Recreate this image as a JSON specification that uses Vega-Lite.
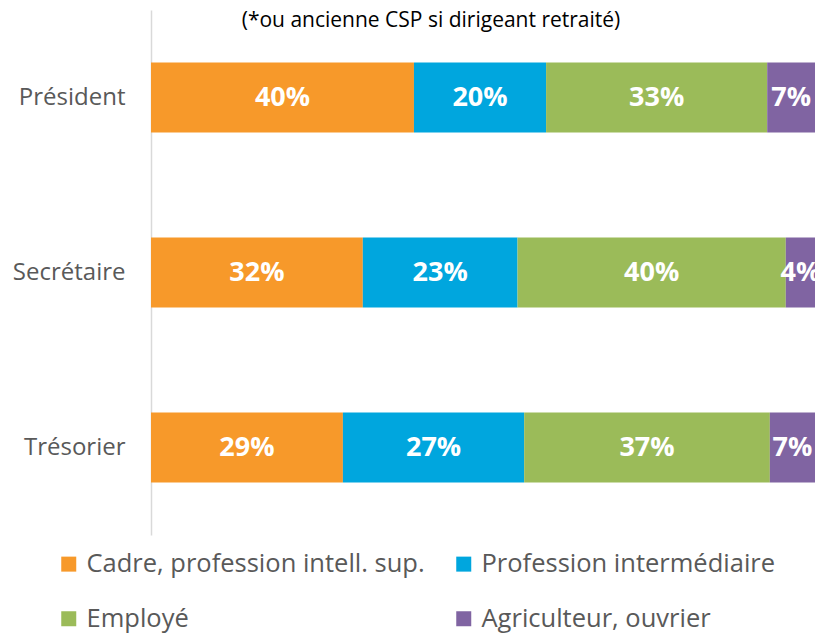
{
  "$schema": "https://vega.github.io/schema/vega-lite/v6.json",
  "autosize": "none",
  "width": 664,
  "height": 525,
  "padding": {"left": 151, "top": 10, "right": 4, "bottom": 101},
  "background": "white",
  "config": {"view": {"stroke": null}, "font": "Open Sans"},
  "title": {
    "text": "(*ou ancienne CSP si dirigeant retraité)",
    "fontSize": 21,
    "fontWeight": "normal",
    "color": "#000000",
    "anchor": "middle",
    "baseline": "alphabetic",
    "offset": -38,
    "dx": -52
  },
  "data": {
    "values": [
      {"role": "Président", "cat": "Cadre, profession intell. sup.", "pct": 39.6},
      {"role": "Président", "cat": "Profession intermédiaire", "pct": 19.9},
      {"role": "Président", "cat": "Employé", "pct": 33.3},
      {"role": "Président", "cat": "Agriculteur, ouvrier", "pct": 7.2},
      {"role": "Secrétaire", "cat": "Cadre, profession intell. sup.", "pct": 31.9},
      {"role": "Secrétaire", "cat": "Profession intermédiaire", "pct": 23.3},
      {"role": "Secrétaire", "cat": "Employé", "pct": 40.4},
      {"role": "Secrétaire", "cat": "Agriculteur, ouvrier", "pct": 4.4},
      {"role": "Trésorier", "cat": "Cadre, profession intell. sup.", "pct": 28.9},
      {"role": "Trésorier", "cat": "Profession intermédiaire", "pct": 27.3},
      {"role": "Trésorier", "cat": "Employé", "pct": 37.0},
      {"role": "Trésorier", "cat": "Agriculteur, ouvrier", "pct": 6.8}
    ]
  },
  "transform": [
    {"calculate": "indexof(['Cadre, profession intell. sup.','Profession intermédiaire','Employé','Agriculteur, ouvrier'], datum.cat)", "as": "ord"},
    {"calculate": "format(datum.pct, '.0f') + '%'", "as": "label"}
  ],
  "encoding": {
    "y": {
      "field": "role",
      "type": "nominal",
      "sort": ["Président", "Secrétaire", "Trésorier"],
      "scale": {"paddingInner": 0.6, "paddingOuter": 0.3},
      "axis": {
        "title": null,
        "ticks": false,
        "domainColor": "#d9d9d9",
        "domainWidth": 1.5,
        "labelFontSize": 24,
        "labelColor": "#595959",
        "labelPadding": 26,
        "labelFont": "Open Sans"
      }
    }
  },
  "layer": [
    {
      "mark": {"type": "bar"},
      "encoding": {
        "x": {
          "field": "pct",
          "type": "quantitative",
          "stack": "normalize",
          "axis": null
        },
        "color": {
          "field": "cat",
          "type": "nominal",
          "scale": {
            "domain": ["Cadre, profession intell. sup.", "Profession intermédiaire", "Employé", "Agriculteur, ouvrier"],
            "range": ["#F7992A", "#00A6DE", "#9BBB59", "#8064A2"]
          },
          "legend": {
            "title": null,
            "orient": "none",
            "legendX": -95,
            "legendY": 541,
            "direction": "horizontal",
            "columns": 2,
            "columnPadding": 26,
            "rowPadding": 28,
            "symbolType": "square",
            "symbolSize": 225,
            "symbolStrokeWidth": 0,
            "labelFontSize": 25.5,
            "labelColor": "#595959",
            "labelOffset": 5,
            "labelLimit": 500,
            "labelFont": "Open Sans"
          }
        },
        "order": {"field": "ord", "type": "quantitative"}
      }
    },
    {
      "mark": {"type": "text", "color": "white", "fontWeight": "bold", "fontSize": 27, "font": "Open Sans", "baseline": "middle", "align": "center"},
      "encoding": {
        "x": {
          "field": "pct",
          "type": "quantitative",
          "stack": "normalize",
          "bandPosition": 0.5
        },
        "detail": {"field": "cat", "type": "nominal"},
        "order": {"field": "ord", "type": "quantitative"},
        "text": {"field": "label", "type": "nominal"}
      }
    }
  ]
}
